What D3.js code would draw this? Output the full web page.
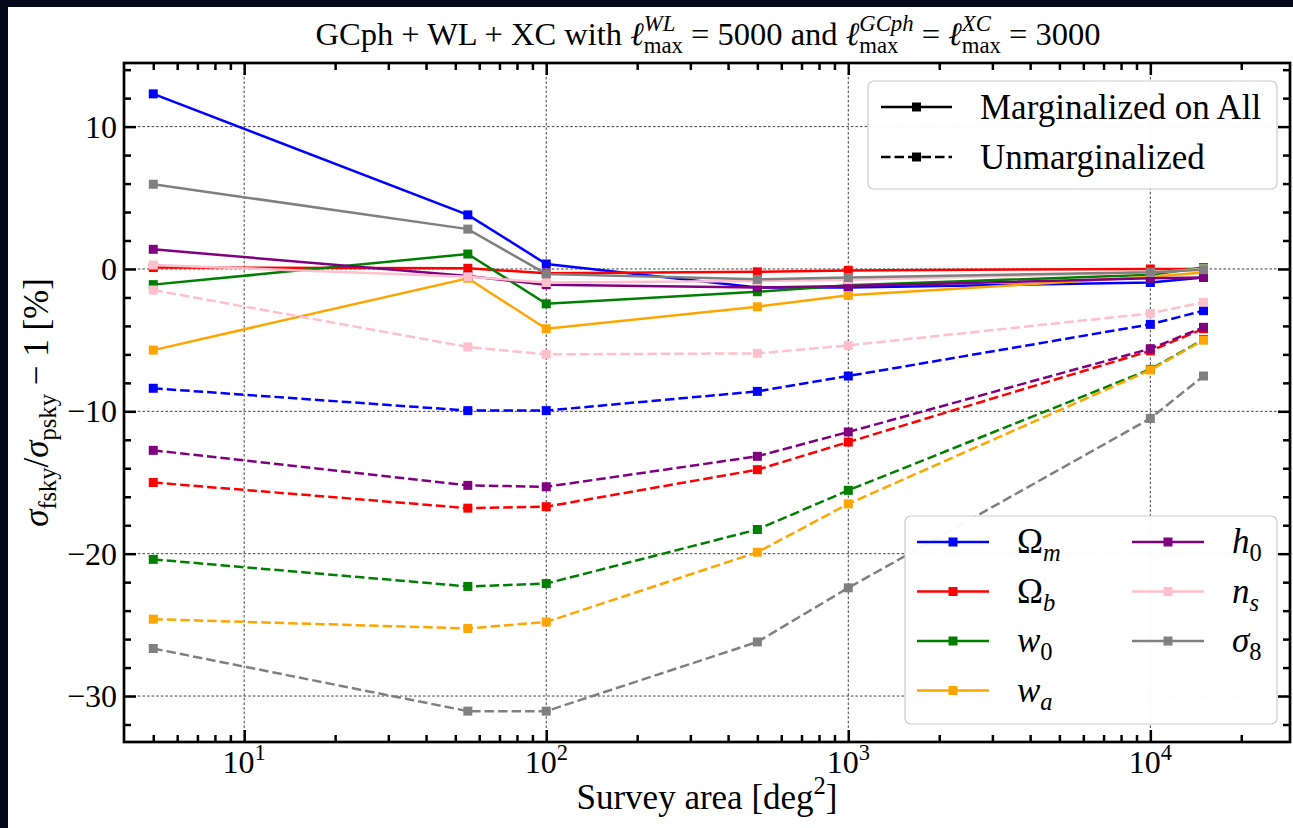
<!DOCTYPE html>
<html>

<head>
    <meta charset="utf-8">
    <title>Survey area vs sigma ratio</title>
    <script src="https://cdn.jsdelivr.net/npm/d3@7"></script>
    <style>
        body {
            margin: 0;
            background: #050819;
        }

        svg {
            display: block;
        }

        text {
            font-family: "Liberation Serif", "Times New Roman", serif;
            white-space: pre;
            fill: black;
        }
    </style>
</head>

<body>
    <script>
        // Survey areas (deg^2)
        const areas = [5, 55, 100, 500, 1000, 10000, 15000];

        // Marginalized on all (solid)
        const margOmegaM = [12.3, 3.8, 0.35, -1.3, -1.3, -0.95, -0.6];
        const margOmegaB = [0.1, 0.05, -0.3, -0.2, -0.1, 0.0, 0.0];
        const margW0 = [-1.1, 1.05, -2.45, -1.6, -1.15, -0.4, 0.1];
        const margWa = [-5.7, -0.65, -4.2, -2.65, -1.85, -0.55, -0.25];
        const margH0 = [1.38, -0.5, -1.1, -1.3, -1.2, -0.65, -0.6];
        const margNs = [0.28, -0.55, -0.95, -0.85, -0.75, -0.25, 0.0];
        const margSigma8 = [5.95, 2.8, -0.35, -0.73, -0.6, -0.23, -0.05];

        // Unmarginalized (dashed)
        const unmargOmegaM = [-8.38, -9.95, -9.95, -8.6, -7.52, -3.89, -2.93];
        const unmargOmegaB = [-15.0, -16.8, -16.7, -14.1, -12.16, -5.75, -4.2];
        const unmargW0 = [-20.4, -22.3, -22.1, -18.3, -15.55, -7.05, -4.95];
        const unmargWa = [-24.6, -25.25, -24.8, -19.9, -16.5, -7.1, -5.0];
        const unmargH0 = [-12.74, -15.2, -15.3, -13.16, -11.45, -5.6, -4.1];
        const unmargNs = [-1.48, -5.48, -6.0, -5.93, -5.37, -3.12, -2.34];
        const unmargSigma8 = [-26.66, -31.06, -31.06, -26.2, -22.4, -10.5, -7.52];

        // Parameter labels (math pieces) and colours
        const paramLabels = [
            [{ t: 'Ω' }, { sub: { t: 'm', it: true } }],
            [{ t: 'Ω' }, { sub: { t: 'b', it: true } }],
            [{ t: 'w', it: true }, { sub: { t: '0' } }],
            [{ t: 'w', it: true }, { sub: { t: 'a', it: true } }],
            [{ t: 'h', it: true }, { sub: { t: '0' } }],
            [{ t: 'n', it: true }, { sub: { t: 's', it: true } }],
            [{ t: 'σ', it: true }, { sub: { t: '8' } }]
        ];
        const paramColors = ['blue', 'red', 'green', 'orange', 'purple', 'pink', 'gray'];

        const xMajorTicks = [10, 100, 1000, 10000];
        const yMajorTicks = [-30, -20, -10, 0, 10];
        const yTickLabels = ['−30', '−20', '−10', '0', '10'];

        const margSeries = [margOmegaM, margOmegaB, margW0, margWa, margH0, margNs, margSigma8];
        const unmargSeries = [unmargOmegaM, unmargOmegaB, unmargW0, unmargWa, unmargH0, unmargNs, unmargSigma8];

        const W = 1293, H = 828;
        const plot = { left: 124, right: 1290, top: 63, bottom: 742 };
        const fs = 32;
        const lw = 2.5;

        const svg = d3.select('body').append('svg')
            .attr('width', W)
            .attr('height', H);

        svg.append('rect').attr('width', W).attr('height', H).attr('fill', '#050819');
        svg.append('rect').attr('x', 8).attr('y', 7).attr('width', W - 8).attr('height', H - 7).attr('fill', 'white');

        // Scales
        const allVals = margSeries.concat(unmargSeries).flat();
        const yMin = d3.min(allVals), yMax = d3.max(allVals);
        const pad = 0.05 * (yMax - yMin);

        const x = d3.scaleLog()
            .domain([4, 29000])
            .range([plot.left, plot.right]);

        const y = d3.scaleLinear()
            .domain([yMin - pad, yMax + pad])
            .range([plot.bottom, plot.top]);

        // Lay out a small piece of "math" text in one <text>: plain runs, sub/superscripts
        function mathText(parent, parts, size) {
            const g = parent.append('g');
            const txt = g.append('text');
            let cx = 0;
            const put = (t, px, dy, sz, it) => {
                const el = txt.append('tspan')
                    .attr('x', px)
                    .attr('y', dy)
                    .style('font-size', sz + 'px')
                    .style('font-style', it ? 'italic' : 'normal')
                    .text(t);
                return el.node().getComputedTextLength();
            };
            parts.forEach(p => {
                if (p.t !== undefined) {
                    cx += put(p.t, cx, 0, size, p.it);
                } else {
                    let w1 = 0, w2 = 0;
                    if (p.sup) w1 = put(p.sup.t, cx, -0.42 * size, size * 0.7, p.sup.it);
                    if (p.sub) w2 = put(p.sub.t, cx, 0.24 * size, size * 0.7, p.sub.it);
                    cx += Math.max(w1, w2);
                }
            });
            return { g, width: cx };
        }

        function placeMath(parts, size, px, py, anchor, rotate) {
            const m = mathText(svg, parts, size);
            const off = anchor === 'middle' ? -m.width / 2 : anchor === 'end' ? -m.width : 0;
            m.g.attr('transform', `translate(${px},${py})` + (rotate ? ` rotate(${rotate})` : '') + ` translate(${off},0)`);
        }

        // Grid
        const grid = svg.append('g');
        grid.selectAll('.vgrid')
            .data(xMajorTicks)
            .enter()
            .append('line')
            .attr('x1', d => x(d)).attr('x2', d => x(d))
            .attr('y1', plot.top).attr('y2', plot.bottom);
        grid.selectAll('.hgrid')
            .data(yMajorTicks)
            .enter()
            .append('line')
            .attr('x1', plot.left).attr('x2', plot.right)
            .attr('y1', d => y(d)).attr('y2', d => y(d));
        grid.selectAll('line')
            .attr('stroke', '#111')
            .attr('stroke-width', 0.8)
            .attr('stroke-dasharray', '2.6,2');

        // Lines and markers
        const line = d3.line()
            .x((d, i) => x(areas[i]))
            .y(d => y(d));
        const square = d3.symbol().type(d3.symbolSquare).size(81);

        paramColors.forEach((color, i) => {
            [margSeries[i], unmargSeries[i]].forEach((vals, k) => {
                svg.append('path')
                    .datum(vals)
                    .attr('d', line)
                    .attr('fill', 'none')
                    .attr('stroke', color)
                    .attr('stroke-width', lw)
                    .attr('stroke-dasharray', k === 1 ? '9.5,4' : null);
                svg.append('g')
                    .selectAll('path')
                    .data(vals)
                    .enter()
                    .append('path')
                    .attr('d', square)
                    .attr('transform', (d, j) => `translate(${x(areas[j])},${y(d)})`)
                    .attr('fill', color);
            });
        });

        // Ticks on all four sides, pointing inward
        const xMinor = [];
        [1, 10, 100, 1000, 10000].forEach(dec => {
            for (let m = 2; m <= 9; m++) {
                const v = dec * m;
                if (v > 4 && v < 29000) xMinor.push(v);
            }
        });
        const yMinor = d3.range(-32, 15, 2).filter(v => v % 10 !== 0);

        function drawTicks(axis, transform, values, size) {
            const g = svg.append('g')
                .attr('transform', transform)
                .call(axis.tickValues(values).tickSize(size).tickSizeOuter(0).tickFormat(''));
            g.select('.domain').remove();
            g.selectAll('line').attr('stroke', 'black').attr('stroke-width', 2.5);
        }

        drawTicks(d3.axisBottom(x), `translate(0,${plot.bottom})`, xMajorTicks, -12);
        drawTicks(d3.axisBottom(x), `translate(0,${plot.bottom})`, xMinor, -7);
        drawTicks(d3.axisTop(x), `translate(0,${plot.top})`, xMajorTicks, -12);
        drawTicks(d3.axisTop(x), `translate(0,${plot.top})`, xMinor, -7);
        drawTicks(d3.axisLeft(y), `translate(${plot.left},0)`, yMajorTicks, -12);
        drawTicks(d3.axisLeft(y), `translate(${plot.left},0)`, yMinor, -7);
        drawTicks(d3.axisRight(y), `translate(${plot.right},0)`, yMajorTicks, -12);
        drawTicks(d3.axisRight(y), `translate(${plot.right},0)`, yMinor, -7);

        // Spines
        svg.append('rect')
            .attr('x', plot.left).attr('y', plot.top)
            .attr('width', plot.right - plot.left)
            .attr('height', plot.bottom - plot.top)
            .attr('fill', 'none')
            .attr('stroke', 'black')
            .attr('stroke-width', 2.7);

        // Tick labels
        yMajorTicks.forEach((v, i) => {
            svg.append('text')
                .attr('x', 117)
                .attr('y', y(v) + 11)
                .attr('text-anchor', 'end')
                .style('font-size', fs + 'px')
                .text(yTickLabels[i]);
        });
        xMajorTicks.forEach(v => {
            placeMath([{ t: '10' }, { sup: { t: String(Math.round(Math.log10(v))) } }], fs, x(v), 773, 'middle');
        });

        // Axis labels and title
        placeMath([{ t: 'Survey area [deg' }, { sup: { t: '2' } }, { t: ']' }], 35, (plot.left + plot.right) / 2, 809, 'middle');
        placeMath([
            { t: 'σ', it: true }, { sub: { t: 'fsky' } }, { t: '/' },
            { t: 'σ', it: true }, { sub: { t: 'psky' } }, { t: ' − 1 [%]' }
        ], 35, 48, (plot.top + plot.bottom) / 2, 'middle', -90);
        placeMath([
            { t: 'GCph + WL + XC with ' }, { t: 'ℓ', it: true }, { sup: { t: 'WL', it: true }, sub: { t: 'max' } },
            { t: ' = 5000 and ' }, { t: 'ℓ', it: true }, { sup: { t: 'GCph', it: true }, sub: { t: 'max' } },
            { t: ' = ' }, { t: 'ℓ', it: true }, { sup: { t: 'XC', it: true }, sub: { t: 'max' } },
            { t: ' = 3000' }
        ], 32.5, 708, 45, 'middle');

        // Legend helper
        function legendBox(x0, y0, x1, y1) {
            svg.append('rect')
                .attr('x', x0).attr('y', y0)
                .attr('width', x1 - x0).attr('height', y1 - y0)
                .attr('rx', 6)
                .attr('fill', 'white')
                .attr('fill-opacity', 0.95)
                .attr('stroke', '#cccccc')
                .attr('stroke-width', 1.2);
        }

        function legendHandle(x0, x1, yy, color, dashed) {
            svg.append('line')
                .attr('x1', x0).attr('x2', x1)
                .attr('y1', yy).attr('y2', yy)
                .attr('stroke', color)
                .attr('stroke-width', lw)
                .attr('stroke-dasharray', dashed ? '9.5,4' : null);
            svg.append('path')
                .attr('d', square)
                .attr('transform', `translate(${(x0 + x1) / 2},${yy})`)
                .attr('fill', color);
        }

        // Line-style legend
        const styleLabels = ['Marginalized on All', 'Unmarginalized'];
        legendBox(868, 81, 1277, 189);
        styleLabels.forEach((lab, i) => {
            const yy = 107 + i * 50;
            legendHandle(881, 952, yy, 'black', i === 1);
            svg.append('text')
                .attr('x', 980)
                .attr('y', yy + 12)
                .style('font-size', '35px')
                .text(lab);
        });

        // Parameter legend (two columns)
        legendBox(905, 516, 1277, 724);
        paramLabels.forEach((lab, i) => {
            const col = i < 4 ? 0 : 1;
            const row = i < 4 ? i : i - 4;
            const yy = 542 + row * 49.5;
            const hx = col === 0 ? 917 : 1132;
            legendHandle(hx, hx + 72, yy, paramColors[i], false);
            placeMath(lab, 35, col === 0 ? 1017 : 1232, yy + 11, 'start');
        });
    </script>
</body>

</html>
